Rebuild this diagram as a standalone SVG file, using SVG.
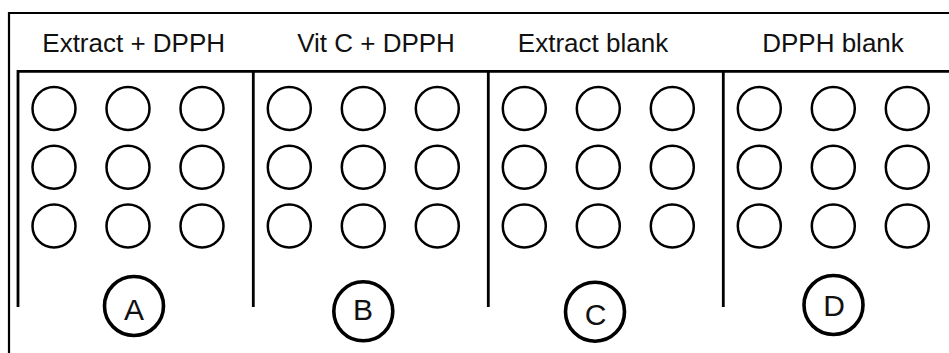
<svg xmlns="http://www.w3.org/2000/svg" width="949" height="353" viewBox="0 0 949 353">
  <style>
    .frame { stroke: #000; fill: none; }
    .well { fill: #fff; stroke: #000; stroke-width: 2.5; }
    .tag { fill: #fff; stroke: #000; stroke-width: 3.6; }
    .hdr { font-family: "Liberation Sans", Arial, sans-serif; font-size: 26px; fill: #111; text-anchor: middle; }
    .ltr { font-family: "Liberation Sans", Arial, sans-serif; font-size: 30px; fill: #111; text-anchor: middle; }
  </style>
  <defs>
    <g id="grid">
      <circle class="well" cx="36" cy="108.5" r="21.5"/>
      <circle class="well" cx="110" cy="108.5" r="21.5"/>
      <circle class="well" cx="184" cy="108.5" r="21.5"/>
      <circle class="well" cx="36" cy="167.2" r="21.5"/>
      <circle class="well" cx="110" cy="167.2" r="21.5"/>
      <circle class="well" cx="184" cy="167.2" r="21.5"/>
      <circle class="well" cx="36" cy="226" r="21.5"/>
      <circle class="well" cx="110" cy="226" r="21.5"/>
      <circle class="well" cx="184" cy="226" r="21.5"/>
    </g>
  </defs>
  <rect x="0" y="0" width="949" height="353" fill="#fff"/>
  <g id="frame">
    <path class="frame" stroke-width="2.2" d="M9 353 V13 H949"/>
    <path class="frame" stroke-width="2.8" d="M18 307 V71.3 H949"/>
    <path class="frame" stroke-width="2.8" d="M253.3 71.3 V307"/>
    <path class="frame" stroke-width="2.8" d="M488.3 71.3 V307"/>
    <path class="frame" stroke-width="2.8" d="M723.3 71.3 V307"/>
  </g>
  <g id="section-A">
    <text class="hdr" x="133.7" y="52.3">Extract + DPPH</text>
    <use href="#grid" x="18" y="0"/>
    <circle class="tag" cx="134" cy="306" r="29.5"/>
    <text class="ltr" x="134" y="320">A</text>
  </g>
  <g id="section-B">
    <text class="hdr" x="376" y="52.3">Vit C + DPPH</text>
    <use href="#grid" x="253.3" y="0"/>
    <circle class="tag" cx="363.3" cy="311.3" r="29.5"/>
    <text class="ltr" x="363" y="320">B</text>
  </g>
  <g id="section-C">
    <text class="hdr" x="593" y="52.3">Extract blank</text>
    <use href="#grid" x="488.3" y="0"/>
    <circle class="tag" cx="595" cy="311.7" r="29.5"/>
    <text class="ltr" x="595.5" y="325">C</text>
  </g>
  <g id="section-D">
    <text class="hdr" x="833" y="52.3">DPPH blank</text>
    <use href="#grid" x="723.3" y="0"/>
    <circle class="tag" cx="833.5" cy="305" r="29.5"/>
    <text class="ltr" x="834" y="316">D</text>
  </g>
</svg>
